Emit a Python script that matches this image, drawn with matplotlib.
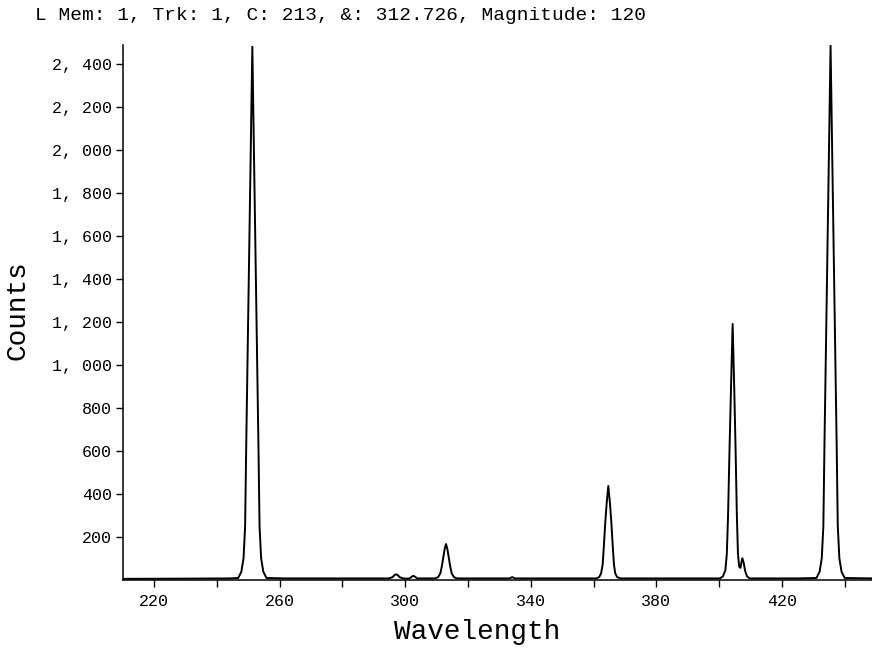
import matplotlib
matplotlib.use("Agg")
import matplotlib.pyplot as plt

# Spectrum samples (wavelength nm, counts)
wavelength = [210.0, 230.0, 244.0, 246.8, 247.8, 248.5, 249.0, 249.35, 250.0, 250.65,
              251.3, 251.95, 252.6, 253.25, 253.6, 254.1, 254.8, 255.8, 262.0, 280.0,
              294.8, 296.0, 296.6, 297.1, 297.6, 298.2, 299.3, 300.5, 301.4, 302.1,
              302.6, 303.1, 303.8, 309.5, 310.5, 311.2, 311.7, 312.2, 312.6, 313.0,
              313.4, 313.8, 314.3, 314.8, 315.5, 316.5, 333.2, 334.1, 335.0, 350.0,
              360.8, 361.8, 362.4, 362.9, 363.3, 363.75, 364.2, 364.7, 365.2, 365.65,
              366.1, 366.5, 366.9, 367.5, 368.6, 385.0, 400.2, 401.2, 402.0, 402.45,
              402.85, 403.3, 403.8, 404.3, 404.8, 405.25, 405.65, 406.0, 406.4, 406.8,
              407.1, 407.4, 407.8, 408.3, 408.9, 409.8, 425.0, 431.0, 432.0, 432.7,
              433.2, 433.55, 434.2, 434.85, 435.5, 436.15, 436.8, 437.45, 437.8, 438.3,
              439.0, 440.0, 449.0]
counts = [4, 5, 6, 8, 37, 100, 248, 620, 1240, 1860,
          2480, 1860, 1240, 620, 248, 100, 37, 8, 6, 6,
          6, 12, 22, 25, 22, 12, 6, 5, 6, 14,
          18, 14, 6, 6, 12, 30, 65, 110, 145, 166,
          145, 110, 65, 30, 12, 6, 6, 12, 6, 6,
          6, 12, 30, 70, 160, 270, 360, 436, 360, 270,
          160, 70, 30, 12, 6, 6, 6, 15, 45, 120,
          300, 600, 900, 1190, 900, 600, 300, 120, 60, 55,
          80, 100, 80, 40, 15, 6, 6, 8, 37, 100,
          249, 620, 1240, 1860, 2485, 1860, 1240, 620, 249, 100,
          37, 8, 6]

x_major = [220, 260, 300, 340, 380, 420]
x_major_labels = ["220", "260", "300", "340", "380", "420"]
x_minor = [240, 280, 320, 360, 400, 440]
y_ticks = [200, 400, 600, 800, 1000, 1200, 1400, 1600, 1800, 2000, 2200, 2400]
y_tick_labels = ["200", "400", "600", "800", "1, 000", "1, 200", "1, 400",
                 "1, 600", "1, 800", "2, 000", "2, 200", "2, 400"]

title_text = "L Mem: 1, Trk: 1, C: 213, &: 312.726, Magnitude: 120"
x_label = "Wavelength"
y_label = "Counts"

FONT = ["Liberation Mono", "DejaVu Sans Mono", "DejaVu Sans"]

fig = plt.figure(figsize=(8.72, 6.53), dpi=100)
ax = fig.add_axes([123 / 872, (653 - 579.7) / 653, 749 / 872, (579.7 - 45) / 653])
ax.plot(wavelength, counts, color="black", linewidth=1.4)

ax.set_xlim(210.1, 448.7)
ax.set_ylim(0, 2488)

ax.set_xticks(x_major)
ax.set_xticklabels(x_major_labels, family=FONT, fontsize=12)
ax.set_xticks(x_minor, minor=True)
ax.set_yticks(y_ticks)
ax.set_yticklabels(y_tick_labels, family=FONT, fontsize=12)
ax.tick_params(axis="both", which="both", direction="out", length=5, width=1,
               color="black", labelcolor="black")
ax.tick_params(axis="x", pad=5)
ax.tick_params(axis="y", pad=3)

for s in ["top", "right"]:
    ax.spines[s].set_visible(False)
for s in ["left", "bottom"]:
    ax.spines[s].set_linewidth(1.1)
    ax.spines[s].set_color("black")

fig.text(35 / 872, 1 - 16 / 653, title_text, family=FONT, fontsize=14,
         ha="left", va="center")
fig.text(477 / 872, 1 - 632 / 653, x_label, family=FONT, fontsize=20,
         ha="center", va="center")
fig.text(18 / 872, 1 - 310 / 653, y_label, family=FONT, fontsize=20,
         ha="center", va="center", rotation=90)

fig.savefig("out.png", dpi=100, facecolor="white")
